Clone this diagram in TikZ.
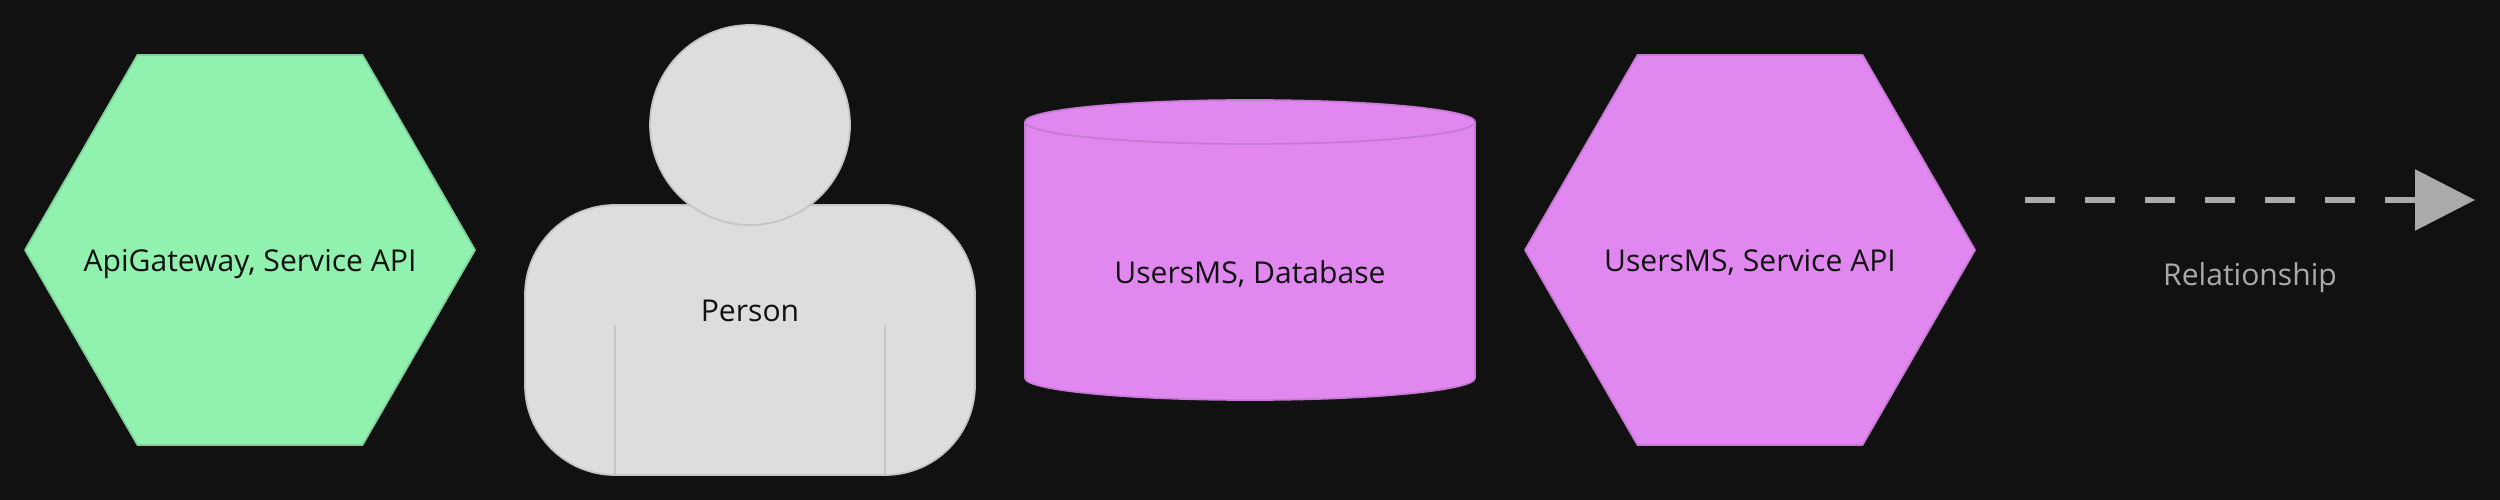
\documentclass[tikz,border=0pt]{standalone}
\usepackage{fontspec}
\setmainfont{Open Sans}
\usetikzlibrary{arrows.meta}
\definecolor{bgc}{HTML}{111111}
\definecolor{greenf}{HTML}{90F2AE}
\definecolor{greens}{HTML}{7ECF98}
\definecolor{purf}{HTML}{E088F0}
\definecolor{purs}{HTML}{C679D3}
\definecolor{grayf}{HTML}{DDDDDD}
\definecolor{grays}{HTML}{C4C4C4}
\definecolor{linec}{HTML}{AAAAAA}
\definecolor{labc}{HTML}{AAAAAA}
\tikzset{
  x=0.748bp, y=-0.748bp,
  shapeline/.style={line width=1.3pt, line join=round},
  greenshape/.style={shapeline, fill=greenf, draw=greens},
  purshape/.style={shapeline, fill=purf, draw=purs},
  grayshape/.style={shapeline, fill=grayf, draw=grays},
  lab/.style={font=\fontsize{22.6}{27}\selectfont, text=bgc, anchor=base, inner sep=0pt},
  rel/.style={line width=4.5pt, draw=linec, dash pattern=on 22.5pt off 22.5pt,
    -{Triangle[length=45pt,width=45pt,fill=linec,sep=0pt]}}
}
\begin{document}
\begin{tikzpicture}
\path[use as bounding box] (0,0) rectangle (2500,500);
\fill[bgc] (-5,-5) rectangle (2505,505);
% hexagon 1
\draw[greenshape] (25,250) -- (137.5,55) -- (362.5,55) -- (475,250) -- (362.5,445) -- (137.5,445) -- cycle;
\node[lab] (gw) at (250,271.5) {ApiGateway, Service API};
% person
\draw[grayshape, rounded corners=67.5pt] (525,205) -- (975,205) -- (975,475) -- (525,475) -- cycle;
\draw[grayshape] (615,325) -- (615,475) (885,325) -- (885,475);
\draw[grayshape] (750,125) circle[radius=100];
\node[lab] (person) at (750,322) {Person};
% cylinder
\draw[purshape] (1025,122) arc[start angle=180,end angle=360,x radius=225,y radius=22]
  -- (1475,378) arc[start angle=0,end angle=180,x radius=225,y radius=22] -- cycle;
\draw[shapeline, draw=purs] (1025,122) arc[start angle=180,end angle=0,x radius=225,y radius=22];
\node[lab] (db) at (1250,284) {UsersMS, Database};
% hexagon 2
\draw[purshape] (1525,250) -- (1637.5,55) -- (1862.5,55) -- (1975,250) -- (1862.5,445) -- (1637.5,445) -- cycle;
\node[lab] (api) at (1750,271.5) {UsersMS, Service API};
% relationship
\coordinate (rs) at (2025,200);
\coordinate (re) at (2475,200);
\draw[rel] (rs) -- (re);
\node[lab, text=labc] (rl) at (2250,286) {Relationship};
\end{tikzpicture}
\end{document}
